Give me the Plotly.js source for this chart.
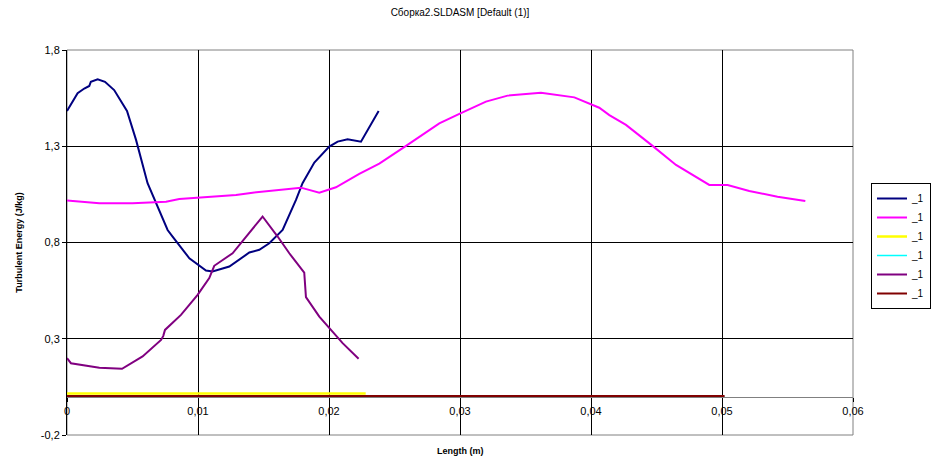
<!DOCTYPE html>
<html><head><meta charset="utf-8">
<script src="https://cdn.plot.ly/plotly-3.0.1.min.js"></script>
<style>body{margin:0;padding:0;background:#fff}#chart{width:931px;height:463px}</style>
</head><body><div id="chart"></div>
<script>
const chartTitle = "Сборка2.SLDASM [Default (1)]";
const xTitle = "Length (m)";
const yTitle = "Turbulent Energy (J/kg)";
const seriesNames = ["_1","_1","_1","_1","_1","_1"];
const seriesColors = ["#000080","#FF00FF","#FFFF00","#00FFFF","#800080","#800000"];
const yTickVals = [-0.2,0.3,0.8,1.3,1.8];
const yTickText = ["-0,2","0,3","0,8","1,3","1,8"];

const navyX = [0,0.00081,0.00132,0.0017,0.00182,0.00234,0.0029,0.0036,0.00458,0.00527,0.00615,0.00705,0.00768,0.00806,0.00934,0.01061,0.01111,0.01239,0.01366,0.01392,0.01468,0.01544,0.01646,0.01748,0.01798,0.01888,0.02002,0.02066,0.02142,0.02244,0.02379];
const navyY = [1.483,1.575,1.60,1.613,1.635,1.648,1.635,1.592,1.483,1.333,1.108,0.96,0.865,0.831,0.718,0.654,0.649,0.675,0.739,0.748,0.762,0.796,0.865,1.021,1.108,1.215,1.298,1.324,1.336,1.324,1.483];

const magX = [0,0.00247,0.005,0.00756,0.00857,0.0101,0.0129,0.01417,0.0157,0.01786,0.01926,0.02053,0.02231,0.02384,0.02588,0.02842,0.02995,0.03198,0.03363,0.03618,0.03873,0.04063,0.0414,0.04267,0.0447,0.04649,0.04903,0.05043,0.05208,0.05424,0.05636];
const magY = [1.018,1.004,1.004,1.012,1.026,1.033,1.047,1.059,1.070,1.085,1.059,1.087,1.156,1.210,1.302,1.419,1.468,1.532,1.563,1.578,1.554,1.50,1.462,1.411,1.302,1.203,1.099,1.099,1.068,1.038,1.016];

const yellowX = [0,0.0228];
const yellowY = [0.015,0.015];

const cyanX = [0,0.0502];
const cyanY = [-0.003,-0.003];

const purpleX = [0,0.0003,0.00247,0.0042,0.00577,0.00718,0.00735,0.00748,0.0087,0.00997,0.01086,0.01124,0.01264,0.01493,0.01608,0.01697,0.01811,0.01824,0.01926,0.02104,0.02226];
const purpleY = [0.199,0.173,0.15,0.144,0.208,0.294,0.315,0.346,0.424,0.528,0.615,0.679,0.744,0.935,0.831,0.744,0.644,0.516,0.415,0.277,0.196];

const redX = [0,0.0502];
const redY = [0.002,0.002];

const xs = [navyX,magX,yellowX,cyanX,purpleX,redX];
const ys = [navyY,magY,yellowY,cyanY,purpleY,redY];
const widths = [2,2,2.5,1.5,2,2];

const traces = xs.map((x,i)=>({
  x:x, y:ys[i], type:'scatter', mode:'lines', name:seriesNames[i],
  line:{color:seriesColors[i], width:widths[i]}
}));

const font = "Liberation Sans, Arial, sans-serif";
const layout = {
  width:931, height:463,
  margin:{l:67, r:78, t:50, b:28},
  paper_bgcolor:'#fff', plot_bgcolor:'#fff',
  separators:', ',
  font:{family:font, size:11, color:'#000'},
  title:{text:chartTitle, font:{family:font, size:10, color:'#000'}, xref:'paper', x:0.5, xanchor:'center', y:0.972, yanchor:'middle'},
  showlegend:true,
  legend:{xref:'container', yref:'container', x:871/931, xanchor:'left', y:1-183/463, yanchor:'top',
          bordercolor:'#000', borderwidth:1, bgcolor:'#fff',
          font:{family:font, size:10, color:'#000'}, itemwidth:30, tracegroupgap:0},
  xaxis:{range:[0,0.06], dtick:0.01, tick0:0, showgrid:true, gridcolor:'#000', gridwidth:1,
         anchor:'free', position:0.1, showline:true, linecolor:'#808080', linewidth:1,
         ticks:'outside', ticklen:4, tickcolor:'#000', zeroline:false, automargin:false,
         tickfont:{family:font, size:11, color:'#000'}, fixedrange:true},
  yaxis:{range:[-0.2,1.8], tickmode:'array', tickvals:yTickVals, ticktext:yTickText,
         showgrid:true, gridcolor:'#000', gridwidth:1, automargin:false,
         showline:true, linecolor:'#000', linewidth:1, ticks:'outside', ticklen:4, tickcolor:'#000',
         zeroline:false,
         tickfont:{family:font, size:11, color:'#000'},
         title:{text:yTitle, font:{family:font, size:9, color:'#000', weight:'bold'}, standoff:16}},
  shapes:[{type:'rect', xref:'paper', yref:'paper', x0:0, x1:1, y0:0, y1:1, line:{color:'#808080', width:1}, layer:'below'}],
  annotations:[{text:'<b>'+xTitle+'</b>', xref:'paper', yref:'paper', x:0.5, y:-0.042, xanchor:'center', yanchor:'middle', showarrow:false,
                font:{family:font, size:9, color:'#000'}}]
};
Plotly.newPlot('chart', traces, layout, {staticPlot:true, displayModeBar:false});
</script></body></html>
